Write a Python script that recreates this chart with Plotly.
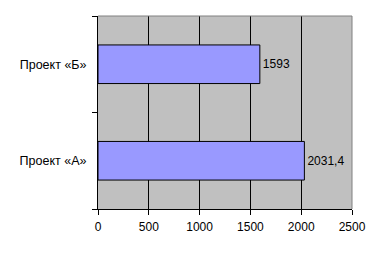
import plotly.graph_objects as go

categories = ["Проект «А»", "Проект «Б»"]
values = [2031.4, 1593]
labels = [f"{v:g}".replace(".", ",") for v in values]
x_ticks = [0, 500, 1000, 1500, 2000, 2500]

fig = go.Figure(go.Bar(
    y=categories, x=values, orientation="h",
    marker=dict(color="#9999FF", line=dict(color="black", width=1)),
    text=labels, textposition="outside", cliponaxis=False,
    textfont=dict(family="Liberation Sans, Arial", size=12, color="black"),
    width=0.4,
))

fig.update_layout(
    width=380, height=253,
    margin=dict(l=98, r=28, t=16, b=44),
    paper_bgcolor="white", plot_bgcolor="#C0C0C0",
    font=dict(family="Liberation Sans, Arial", size=12, color="black"),
    showlegend=False,
    xaxis=dict(range=[0, 2500], tickvals=x_ticks, showgrid=True, gridcolor="black", gridwidth=1,
               zeroline=False, showline=True, linecolor="black", linewidth=1,
               ticks="outside", ticklen=5, tickcolor="black", ticklabelstandoff=2,
               fixedrange=True),
    yaxis=dict(showgrid=False, zeroline=False, showline=True, linecolor="black", linewidth=1,
               ticks="outside", tickson="boundaries", ticklen=5, tickcolor="black",
               ticklabelstandoff=8, tickfont=dict(size=12.5), fixedrange=True),
    shapes=[
        dict(type="line", xref="x domain", yref="y domain", x0=0, x1=1, y0=1, y1=1,
             line=dict(color="#808080", width=1), layer="above"),
        dict(type="line", xref="x domain", yref="y domain", x0=1, x1=1, y0=0, y1=1,
             line=dict(color="#808080", width=1), layer="above"),
    ],
)

fig.write_html("out.html")
